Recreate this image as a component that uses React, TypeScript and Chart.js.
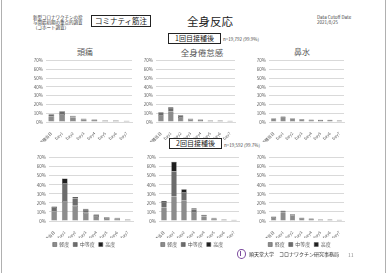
import React, { useEffect, useRef } from "react";
import { Chart, registerables } from "chart.js";
Chart.register(...registerables);

const FONT = "'Noto Sans CJK JP', 'Noto Sans', sans-serif";
Chart.defaults.font.family = FONT;

const categories = ["接種当日", "Day1", "Day2", "Day3", "Day4", "Day5", "Day6", "Day7"];
const severityLabels = ["軽度", "中等度", "高度"];

// 1回目接種後
const d1HeadacheMild = [6.5, 9, 5, 3, 2.2, 1.5, 1.5, 1.1];
const d1HeadacheMod = [2.2, 3, 1.7, 0.8, 0.6, 0.4, 0.4, 0.3];
const d1HeadacheSev = [0.3, 0.5, 0.3, 0.2, 0.2, 0.1, 0.1, 0.1];

const d1FatigueMild = [8, 12, 5.8, 3, 2.2, 1.5, 1.5, 1.1];
const d1FatigueMod = [3, 4.3, 1.9, 0.8, 0.6, 0.4, 0.4, 0.3];
const d1FatigueSev = [0.5, 0.7, 0.3, 0.2, 0.2, 0.1, 0.1, 0.1];

const d1NoseMild = [3.9, 5.6, 3.9, 3.1, 2.6, 2.2, 2.2, 1.8];
const d1NoseMod = [0.5, 0.8, 0.5, 0.35, 0.3, 0.25, 0.25, 0.2];
const d1NoseSev = [0.1, 0.1, 0.1, 0.05, 0.1, 0.05, 0.05, 0];

// 2回目接種後
const d2HeadacheMild = [10.5, 22, 17, 9, 5.5, 3.3, 2.6, 1.5];
const d2HeadacheMod = [5, 20, 8, 3.5, 1.5, 0.9, 0.7, 0.4];
const d2HeadacheSev = [0.5, 5, 1.5, 1, 0.5, 0.3, 0.2, 0.1];

const d2FatigueMild = [15, 27, 23, 10, 5, 2.6, 1.5, 1.1];
const d2FatigueMod = [6, 28, 9, 3, 1.5, 0.7, 0.4, 0.3];
const d2FatigueSev = [1, 10.5, 3, 1, 0.5, 0.2, 0.1, 0.1];

const d2NoseMild = [4.3, 9.8, 6.4, 3.5, 2.6, 1.7, 1.7, 1.3];
const d2NoseMod = [0.6, 1.5, 1, 0.4, 0.35, 0.25, 0.25, 0.15];
const d2NoseSev = [0.1, 0.2, 0.1, 0.1, 0.05, 0.05, 0.05, 0.05];

const yMax = 70;
const yStep = 10;

const C_MILD = "#8c8c8c";
const C_MOD = "#6c6c6c";
const C_SEV = "#1f1f1f";
const TXT = "#595959";

type Props = {
  left: number; top: number; width: number; height: number;
  mild: number[]; mod: number[]; sev: number[];
  legend: boolean; xh: number; yw: number;
};

function SmallChart(p: Props) {
  const ref = useRef<HTMLCanvasElement>(null);
  useEffect(() => {
    const mk = (i: number, data: number[], color: string) => ({
      label: severityLabels[i],
      data,
      backgroundColor: color,
      borderColor: "#4a4a4a",
      borderWidth: 0.5,
      barPercentage: 0.68,
      categoryPercentage: 0.8,
    });
    const chart = new Chart(ref.current!, {
      type: "bar",
      data: {
        labels: categories,
        datasets: [mk(0, p.mild, C_MILD), mk(1, p.mod, C_MOD), mk(2, p.sev, C_SEV)],
      },
      options: {
        responsive: false,
        animation: false,
        devicePixelRatio: 1,
        layout: { padding: { top: 3, right: 2, left: 0, bottom: 0 } },
        plugins: {
          legend: {
            display: p.legend,
            position: "bottom",
            labels: { boxWidth: 4, boxHeight: 4, padding: 4, font: { size: 5 }, color: TXT },
          },
          tooltip: { enabled: false },
        },
        scales: {
          x: {
            stacked: true,
            grid: { display: false },
            border: { color: "#d9d9d9" },
            ticks: { minRotation: 45, maxRotation: 45, autoSkip: false, font: { size: 4 }, color: TXT, padding: 1 },
            afterFit: (s: any) => { s.height = p.xh; },
          },
          y: {
            stacked: true,
            min: 0,
            max: yMax,
            ticks: { stepSize: yStep, callback: (v: any) => v + "%", font: { size: 4.5 }, color: TXT, padding: 3 },
            grid: { color: "#d9d9d9", drawTicks: false },
            border: { display: false },
            afterFit: (s: any) => { s.width = p.yw; },
          },
        },
      } as any,
    });
    return () => chart.destroy();
  }, []);
  return (
    <canvas
      ref={ref}
      width={p.width}
      height={p.height}
      style={{ position: "absolute", left: p.left, top: p.top, width: p.width, height: p.height }}
    />
  );
}

const abs = (o: React.CSSProperties): React.CSSProperties => ({ position: "absolute", whiteSpace: "nowrap", ...o });

export default function App() {
  return (
    <div style={{ position: "relative", width: 388, height: 273, background: "#fff", fontFamily: FONT, overflow: "hidden" }}>
      <style>{`body{margin:0}`}</style>
      <div style={abs({ left: 1, top: 0, width: 1, height: 273, background: "#b0b0b0" })} />
      <div style={abs({ left: 385, top: 0, width: 1, height: 273, background: "#b0b0b0" })} />

      <div style={abs({ left: 33, top: 15, fontSize: 4.5, lineHeight: "4.8px", color: "#333" })}>
        新型コロナワクチンの投<br />与開始初期の重点的調査<br />（コホート調査）
      </div>
      <div style={abs({ left: 91, top: 15, width: 58, height: 10, border: "1px solid #222", fontSize: 7.5, lineHeight: "10px", textAlign: "center", color: "#222" })}>
        コミナティ筋注
      </div>
      <div style={abs({ left: 160, top: 13, width: 100, textAlign: "center", fontSize: 11.5, lineHeight: "16px", color: "#222" })}>全身反応</div>
      <div style={abs({ left: 317, top: 15, fontSize: 4.5, lineHeight: "4.8px", color: "#444" })}>
        Data Cutoff Date<br />2021/8/25
      </div>

      <div style={abs({ left: 168, top: 33, width: 51, height: 9, border: "1px solid #222", fontSize: 7, lineHeight: "9px", textAlign: "center", color: "#222" })}>
        1回目接種後
      </div>
      <div style={abs({ left: 223, top: 37, fontSize: 4.5, lineHeight: "5px", color: "#444" })}>n=19,792 (99.9%)</div>

      <div style={abs({ left: 60, top: 47, width: 50, textAlign: "center", fontSize: 8, lineHeight: "10px", color: TXT })}>頭痛</div>
      <div style={abs({ left: 170, top: 47, width: 64, textAlign: "center", fontSize: 8.5, lineHeight: "10px", color: TXT })}>全身倦怠感</div>
      <div style={abs({ left: 277, top: 47, width: 50, textAlign: "center", fontSize: 8, lineHeight: "10px", color: TXT })}>鼻水</div>

      <SmallChart left={32} top={55} width={102} height={87} mild={d1HeadacheMild} mod={d1HeadacheMod} sev={d1HeadacheSev} legend={false} xh={20} yw={14} />
      <SmallChart left={142} top={55} width={95} height={87} mild={d1FatigueMild} mod={d1FatigueMod} sev={d1FatigueSev} legend={false} xh={20} yw={14} />
      <SmallChart left={255} top={55} width={91} height={87} mild={d1NoseMild} mod={d1NoseMod} sev={d1NoseSev} legend={false} xh={20} yw={14} />

      <div style={abs({ left: 169, top: 138, width: 51, height: 9, border: "1px solid #222", fontSize: 7, lineHeight: "9px", textAlign: "center", color: "#222", background: "#fff", zIndex: 2 })}>
        2回目接種後
      </div>
      <div style={abs({ left: 224, top: 143, fontSize: 4.5, lineHeight: "5px", color: "#444", zIndex: 2 })}>n=19,592 (99.7%)</div>

      <SmallChart left={35} top={152} width={100} height={105} mild={d2HeadacheMild} mod={d2HeadacheMod} sev={d2HeadacheSev} legend={true} xh={17} yw={14} />
      <SmallChart left={145} top={152} width={96} height={105} mild={d2FatigueMild} mod={d2FatigueMod} sev={d2FatigueSev} legend={true} xh={17} yw={14} />
      <SmallChart left={255} top={152} width={91} height={105} mild={d2NoseMild} mod={d2NoseMod} sev={d2NoseSev} legend={true} xh={17} yw={14} />

      <div style={abs({ left: 237, top: 249, width: 7, height: 8, borderRadius: "50%", border: "1px solid #7b4a9e" })} />
      <div style={abs({ left: 240, top: 251, width: 1, height: 5, background: "#7b4a9e" })} />
      <div style={abs({ left: 249, top: 251, fontSize: 5, lineHeight: "6px", color: "#333" })}>順天堂大学　コロナワクチン研究事務局</div>
      <div style={abs({ left: 348, top: 252, fontSize: 5, lineHeight: "6px", color: "#888" })}>11</div>
    </div>
  );
}
